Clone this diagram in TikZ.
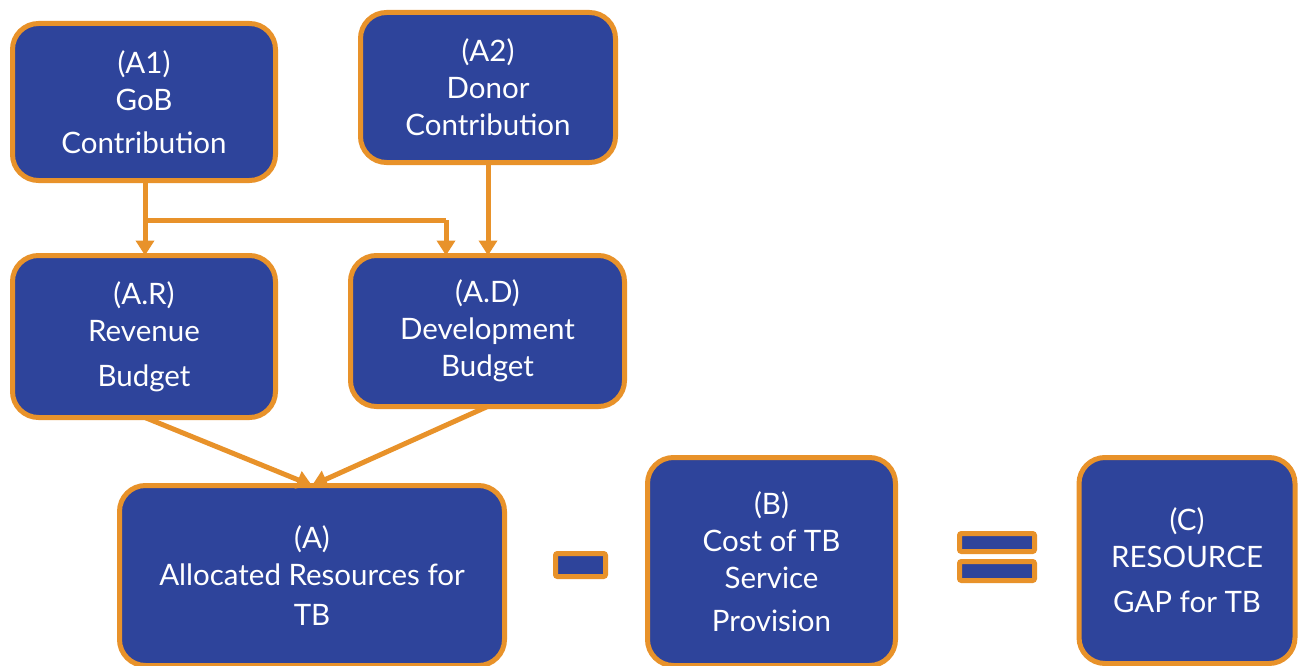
\documentclass[tikz,border=0pt]{standalone}
\usepackage{fontspec}
\setmainfont{Lato}
\usetikzlibrary{arrows.meta}
\definecolor{boxblue}{HTML}{2E449B}
\definecolor{edgeorange}{HTML}{E8922A}
\tikzset{
  card/.style={draw=edgeorange, line width=5pt, fill=boxblue, rounded corners=26pt,
    inner sep=0pt, outer sep=0pt, align=center, text=white,
    font=\fontsize{29.5}{37}\selectfont},
  bar/.style={draw=edgeorange, line width=5pt, fill=boxblue, rounded corners=2pt, inner sep=0pt, outer sep=0pt},
  flow/.style={draw=edgeorange, line width=5pt, -{Triangle[length=15pt,width=18pt]}},
  link/.style={draw=edgeorange, line width=5pt}
}
\begin{document}
\begin{tikzpicture}[x=1pt,y=-1pt]
\useasboundingbox (0,0) rectangle (1298,666);
\node[card, minimum width=263pt, minimum height=157pt] (a1) at (144,102) {(A1)\\GoB\\[6pt]Contribution};
\node[card, minimum width=255pt, minimum height=150pt] (a2) at (488,87.5) {(A2)\\Donor\\Contribution};
\node[card, minimum width=263pt, minimum height=162pt] (ar) at (144,336.5) {(A.R)\\Revenue\\[8pt]Budget};
\node[card, minimum width=274pt, minimum height=151pt] (ad) at (487.5,331) {(A.D)\\Development\\Budget};
\node[card, minimum width=385pt, minimum height=180pt] (a) at (312,575.5) {(A)\\Allocated Resources for\\[3pt]TB};
\node[card, minimum width=248pt, minimum height=208pt] (b) at (771.5,561.5) {(B)\\Cost of TB\\Service\\[6pt]Provision};
\node[card, minimum width=216pt, minimum height=206pt] (c) at (1187,560.5) {(C)\\RESOURCE\\[8pt]GAP for TB};
% operators
\node[bar, minimum width=50pt, minimum height=23pt] (minus) at (580.5,565) {};
\node[bar, minimum width=75pt, minimum height=18pt] (eqtop) at (997,542.5) {};
\node[bar, minimum width=75pt, minimum height=19pt] (eqbot) at (997,571) {};
% connectors
\coordinate (split) at (145,220);
\coordinate (turn) at (446,220);
\draw[flow] (a1.south -| split) -- (ar.north -| split);
\draw[link] (split) -- (turn);
\draw[flow] (turn) -- (ad.north -| turn);
\draw[flow] (a2.south) -- (ad.north -| a2.south);
\draw[flow] (ar.south -| split) -- (a.north);
\draw[flow] (ad.south) -- (a.north);
\end{tikzpicture}
\end{document}
